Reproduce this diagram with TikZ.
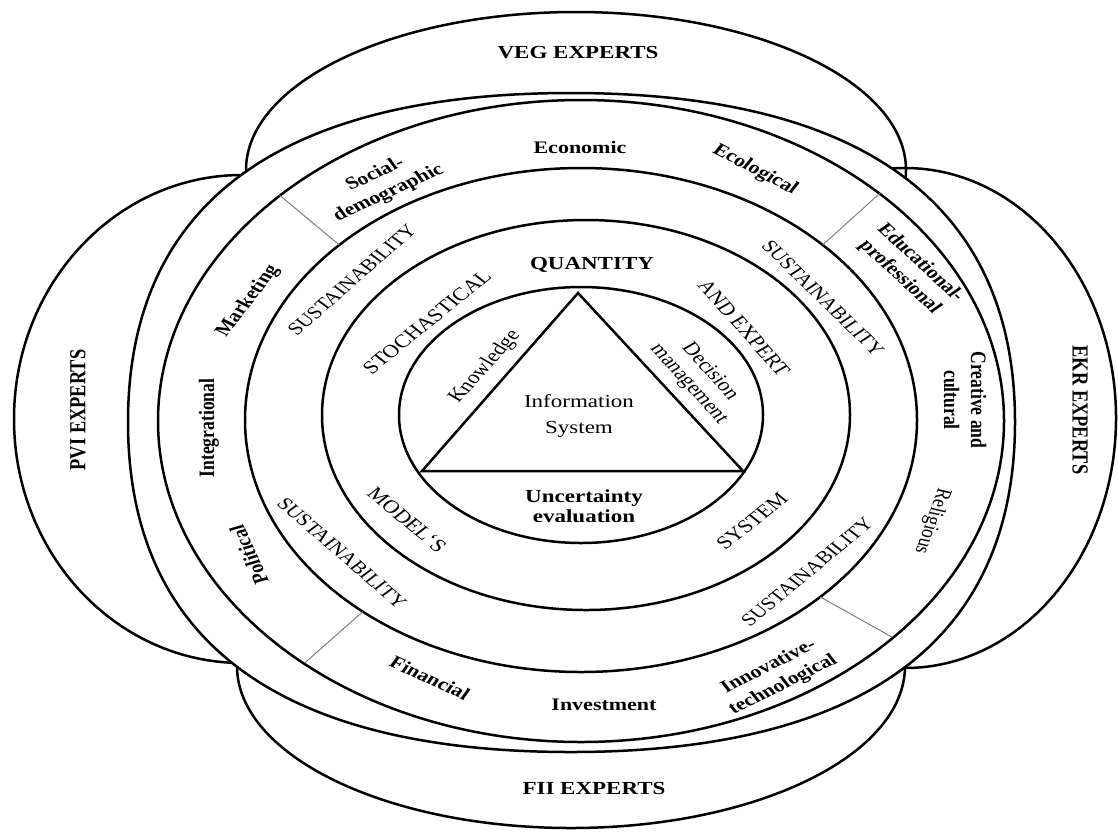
\documentclass[tikz,border=0pt]{standalone}
\usepackage{fontspec}
\setmainfont{Liberation Serif}
\usetikzlibrary{calc}
\begin{document}
\begin{tikzpicture}
	[x=1pt, y=-1pt,
	ring/.style = {line width=2.5pt},
	divider/.style = {line width=1pt, black!50},
	lbl/.style = {yscale=0.8, align=center, inner sep=0pt, font=\fontsize{22}{24}\selectfont},
	blbl/.style = {lbl, font=\fontsize{22}{27}\selectfont\bfseries},
	big/.style = {lbl, font=\fontsize{23}{26}\selectfont},
	bigb/.style = {lbl, font=\fontsize{23}{25}\selectfont\bfseries}]
\useasboundingbox (0,0) rectangle (1118,831);
\coordinate (mid) at (581,420);
% expert groups, cut by the white outer band
\draw[ring] (576,170) ellipse [x radius=330pt, y radius=158pt];
\draw[ring] (571,666) ellipse [x radius=334pt, y radius=162pt];
\draw[ring] (242,419) ellipse [x radius=228pt, y radius=244pt];
\draw[ring] (905,418) ellipse [x radius=211pt, y radius=250pt];
\draw[ring, fill=white] (1015,422) .. controls (1015,205) and (864,93) .. (571,93)
	.. controls (278,93) and (128,205) .. (128,422)
	.. controls (128,640) and (278,752) .. (571,752)
	.. controls (864,752) and (1015,640) .. (1015,422) -- cycle;
% rings
\draw[ring] (581,421) ellipse [x radius=423pt, y radius=321pt];
\draw[ring] (mid) ellipse [x radius=336pt, y radius=252pt];
\draw[ring] (586,415) ellipse [x radius=264pt, y radius=195pt];
\draw[ring] (581,415) ellipse [x radius=182pt, y radius=128pt];
% triangle
\coordinate (apex) at (578,293);
\coordinate (lft) at (422,471);
\coordinate (rgt) at (743,471);
\draw[ring] (apex) -- (lft) -- (rgt) -- cycle;
% sector lines
\draw[divider] ($(mid)+(136:336pt and 252pt)$) -- ($(mid)+(135.5:423pt and 321pt)$);
\draw[divider] ($(mid)+(44:336pt and 252pt)$) -- ($(mid)+(45:423pt and 321pt)$);
\draw[divider] ($(mid)+(229.5:336pt and 252pt)$) -- ($(mid)+(229.2:423pt and 321pt)$);
\draw[divider] ($(mid)+(-44.6:336pt and 252pt)$) -- ($(mid)+(-42.6:423pt and 321pt)$);

\node[bigb] (veg) at (578,53) {VEG EXPERTS};
\node[bigb] (fii) at (594,788) {FII EXPERTS};
\node[bigb, rotate=90] (pvi) at (78,410) {PVI EXPERTS};
\node[bigb, rotate=-90] (ekr) at (1080,410) {EKR EXPERTS};

\node[blbl] (econ) at (580,147) {Economic};
\node[blbl, rotate=30] (social) at (382,184) {Social-\\demographic};
\node[blbl, rotate=-33] (ecol) at (755,170) {Ecological};
\node[blbl, rotate=-49] (edu) at (910,270) {Educational-\\professional};
\node[blbl, rotate=-90] (creat) at (965,400) {Creative and\\cultural};
\node[lbl, rotate=-106] (relig) at (932,521) {Religious};
\node[blbl, rotate=32] (innov) at (776,676) {Innovative-\\technological};
\node[blbl] (invest) at (604,705) {Investment};
\node[blbl, rotate=-30] (fin) at (430,678) {Financial};
\node[blbl, rotate=110] (polit) at (249,555) {Political};
\node[blbl, rotate=90] (integ) at (209,428) {Integrational};
\node[blbl, rotate=58] (market) at (248,301) {Marketing};

\node[lbl, rotate=47.6] (susttl) at (352,280) {SUSTAINABILITY};
\node[lbl, rotate=-50.5] (susttr) at (823,298) {SUSTAINABILITY};
\node[lbl, rotate=-47.2] (sustbl) at (342,553) {SUSTAINABILITY};
\node[lbl, rotate=45.9] (sustbr) at (807,572) {SUSTAINABILITY};

\node[bigb] (quant) at (592,265) {QUANTITY};
\node[big, rotate=45.3] (stoch) at (427,322) {STOCHASTICAL};
\node[big, rotate=-54.3] (andexp) at (744,328) {AND EXPERT};
\node[big, rotate=-45.8] (model) at (407,520) {MODEL`S};
\node[big, rotate=45.1] (system) at (752,521) {SYSTEM};

\node[big, rotate=54] (know) at (485,367) {Knowledge};
\node[big, rotate=-54] (decis) at (699,378) {Decision\\management};
\node[big, font=\fontsize{23}{33}\selectfont] (info) at (579,416) {Information\\System};
\node[bigb] (uncert) at (584,506) {Uncertainty\\evaluation};
\end{tikzpicture}
\end{document}
